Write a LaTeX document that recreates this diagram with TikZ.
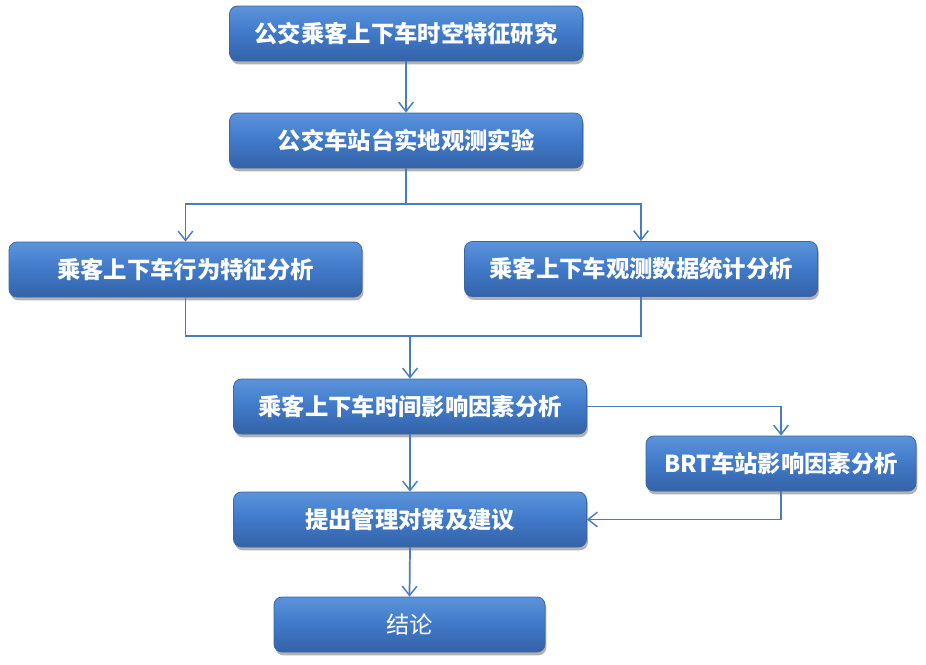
\documentclass[tikz,border=0pt]{standalone}
\usepackage{fontspec}
\newfontfamily\cjk{Noto Sans CJK SC}
\usetikzlibrary{arrows.meta,shadows}
\definecolor{btop}{HTML}{5B93DB}
\definecolor{bmid}{HTML}{4079C8}
\definecolor{bbot}{HTML}{3462A8}
\definecolor{brim}{HTML}{3A67A6}
\definecolor{lnc}{HTML}{4A7EBB}
\tikzset{
  box/.style={rounded corners=6pt, draw=brim, line width=0.6pt,
    top color=btop, bottom color=bbot, middle color=bmid,
    minimum height=41.25pt, minimum width=264.75pt,
    text=white, font=\cjk\bfseries\fontsize{17.5pt}{20pt}\selectfont,
    drop shadow={shadow xshift=1pt, shadow yshift=-2.5pt, opacity=0.3, fill=black}},
  boxn/.style={box, font=\cjk\fontsize{17.5pt}{20pt}\selectfont},
  conn/.style={draw=lnc, line width=1.3pt},
  arr/.style={conn, -{Straight Barb[length=7pt,width=11pt,line width=1.1pt]}}
}
\begin{document}
\begin{tikzpicture}[x=0.75pt,y=-0.75pt]
\useasboundingbox (0,0) rectangle (926,665);
\node[box] (b1) at (406,33.5) {公交乘客上下车时空特征研究};
\node[box] (b2) at (406,140.5) {公交车站台实地观测实验};
\node[box] (b3) at (185.5,269.5) {乘客上下车行为特征分析};
\node[box] (b4) at (641,269) {乘客上下车观测数据统计分析};
\node[box] (b5) at (410,406.5) {乘客上下车时间影响因素分析};
\node[box, minimum width=202.5pt] (b6) at (781,463.5) {BRT车站影响因素分析};
\node[box] (b7) at (410,519.5) {提出管理对策及建议};
\node[boxn, minimum width=203.25pt] (b8) at (409.5,624.5) {结论};
\coordinate (j1) at (406,204);
\coordinate (j2) at (410,336);
\draw[arr] (b1.south) -- (b2.north);
\draw[conn] (b2.south) -- (j1);
\draw[arr] (j1) -| (b3.north);
\draw[arr] (j1) -| (b4.north);
\draw[conn] (b3.south) -- (b3.south |- j2) -- (b4.south |- j2) -- (b4.south);
\draw[arr] (j2) -- (b5.north);
\draw[arr] (b5.east) -| (b6.north);
\draw[arr] (b5.south) -- (b7.north);
\draw[arr] (b6.south) |- (b7.east);
\draw[arr] (b7.south) -- (b8.north);
\end{tikzpicture}
\end{document}
